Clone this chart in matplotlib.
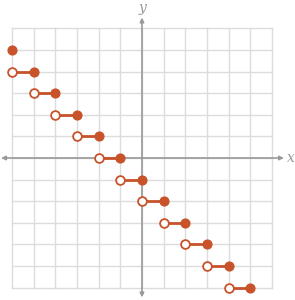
import numpy as np
import matplotlib.pyplot as plt

# step pieces: open at left end, closed at right end
x_open = [-6, -5, -4, -3, -2, -1, 0, 1, 2, 3, 4]
x_closed = [-5, -4, -3, -2, -1, 0, 1, 2, 3, 4, 5]
y_step = [4, 3, 2, 1, 0, -1, -2, -3, -4, -5, -6]
# lone closed point
x_single = [-6]
y_single = [5]

ticks = np.arange(-6, 7)
col = '#c8522a'
grid_col = '#dcdcdc'
axis_col = '#999999'

fig = plt.figure(figsize=(2.95, 3.0), dpi=100)
ax = fig.add_axes([0, 0, 1, 1])
ax.set_xlim(-6.55, 7.06)
ax.set_ylim(-6.57, 7.31)
ax.axis('off')

# grid inside the -6..6 square
for t in ticks:
    ax.plot([t, t], [-6, 6], color=grid_col, lw=1, zorder=1)
    ax.plot([-6, 6], [t, t], color=grid_col, lw=1, zorder=1)

# axes with arrows both ends
ax.annotate('', xy=(6.55, 0), xytext=(-6.5, 0),
            arrowprops=dict(arrowstyle='<|-|>', color=axis_col, lw=1.2,
                            mutation_scale=6, shrinkA=0, shrinkB=0), zorder=2)
ax.annotate('', xy=(0, 6.5), xytext=(0, -6.45),
            arrowprops=dict(arrowstyle='<|-|>', color=axis_col, lw=1.2,
                            mutation_scale=6, shrinkA=0, shrinkB=0), zorder=2)
ax.text(6.88, 0, 'x', color=axis_col, fontsize=10, family='DejaVu Serif',
        style='italic', ha='center', va='center')
ax.text(0, 6.95, 'y', color=axis_col, fontsize=10, family='DejaVu Serif',
        style='italic', ha='center', va='center')

for xo, xc, yv in zip(x_open, x_closed, y_step):
    ax.plot([xo, xc], [yv, yv], color=col, lw=2, zorder=3)
ax.plot(x_closed, y_step, 'o', color=col, ms=6.3, zorder=4)
ax.plot(x_open, y_step, 'o', mfc='white', mec=col, mew=1.3, ms=6.3, zorder=4)
ax.plot(x_single, y_single, 'o', color=col, ms=6.3, zorder=4)

fig.savefig('out.png', dpi=100)
